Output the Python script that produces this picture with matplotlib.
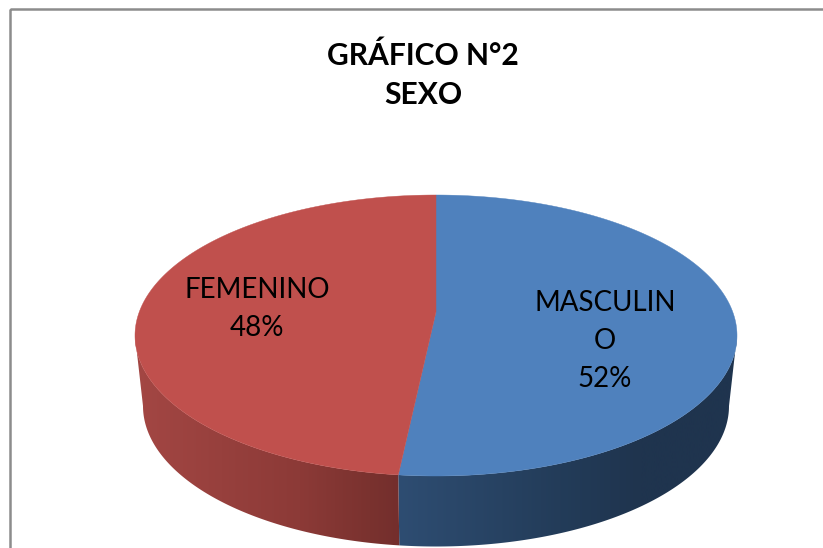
import numpy as np
import matplotlib
matplotlib.use("Agg")
import matplotlib.pyplot as plt
from matplotlib.patches import Polygon, Rectangle
from matplotlib.colors import LinearSegmentedColormap

title = "GRÁFICO N°2\nSEXO"
categories = ["MASCULINO", "FEMENINO"]
label_texts = ["MASCULIN\nO\n52%", "FEMENINO\n48%"]
values = [52, 48]

W, H = 823, 548
CX, CY, RX, RY = 436.0, 335.5, 301.0, 140.5
APEX_Y = 312.0
BOTTOM_RX = 293.0
DEPTH = 70.5
s = BOTTOM_RX / RX
off = -DEPTH / RY

plt.rcParams['font.family'] = ['Lato', 'DejaVu Sans']
fig = plt.figure(figsize=(W / 100, H / 100), dpi=100, facecolor='white')
ax = fig.add_axes([0, 0, 1, 1])
ax.set_axis_off()

def px(x, y):
    return (x - CX) / RX, (CY - y) / RY

xl0, yl0 = px(0, H)
xl1, yl1 = px(W, 0)

split = values[0] / sum(values) * 2 * np.pi
apex = np.array(px(CX, APEX_Y))

def top_pt(t):
    return np.sin(t), np.cos(t)
def bot_pt(t):
    return s * np.sin(t), off + np.cos(t)

def slice_poly(t0, t1):
    t = np.linspace(t0, t1, 400)
    tx, ty = top_pt(t)
    return np.vstack([apex, np.column_stack([tx, ty])])

ax.add_patch(Polygon(slice_poly(0, split), closed=True, fc="#4f81bd", ec="#4f81bd", lw=0.3, zorder=5))
ax.add_patch(Polygon(slice_poly(split, 2 * np.pi), closed=True, fc="#c0504d", ec="#c0504d", lw=0.3, zorder=5))

def wall(t0, t1):
    t = np.linspace(t0, t1, 200)
    tx, ty = top_pt(t)
    bx, by = bot_pt(t[::-1])
    return np.column_stack([np.r_[tx, bx], np.r_[ty, by]])

def grad(poly_xy, stops, x_px):
    cmap = LinearSegmentedColormap.from_list(
        'g', [((p - x_px[0]) / (x_px[1] - x_px[0]), c) for p, c in stops])
    g = np.linspace(0, 1, 512)[None, :]
    e0, _ = px(x_px[0], 0)
    e1, _ = px(x_px[1], 0)
    im = ax.imshow(g, cmap=cmap, extent=(e0, e1, yl0, yl1), aspect='auto',
                   zorder=2, interpolation='bilinear')
    poly = Polygon(poly_xy, closed=True, transform=ax.transData, fc='none', ec='none')
    ax.add_patch(poly)
    im.set_clip_path(poly)

blue_poly = wall(np.pi / 2, split)
red_poly = wall(split, 3 * np.pi / 2)
grad(blue_poly, [(398, "#2e4d72"), (560, "#233c59"), (640, "#1f344e"), (740, "#1f344e")], (398, 740))
grad(red_poly, [(130, "#a44744"), (300, "#8c3a37"), (370, "#7a322f"), (402, "#732e2c")], (130, 402))
ax.set_xlim(xl0, xl1)
ax.set_ylim(yl0, yl1)

# chart frame (runs off the right and bottom of the image)
x0, y0 = px(10.5, 9)
x1, y1 = px(840, 570)
ax.add_patch(Rectangle((x0, y0), x1 - x0, y1 - y0, fc='none', ec='#8c8c8c', lw=1.8, zorder=1))

ax.text(*px(423, 75.5), title, ha='center', va='center', fontsize=21.6, fontweight='bold',
        color='black', linespacing=1.47, zorder=10)
ax.text(*px(257, 309), label_texts[1], ha='center', va='center', fontsize=20,
        color='black', linespacing=1.57, zorder=10)
ax.text(*px(605, 341), label_texts[0], ha='center', va='center', fontsize=20,
        color='black', linespacing=1.57, zorder=10)

fig.savefig("out.png", dpi=100)
